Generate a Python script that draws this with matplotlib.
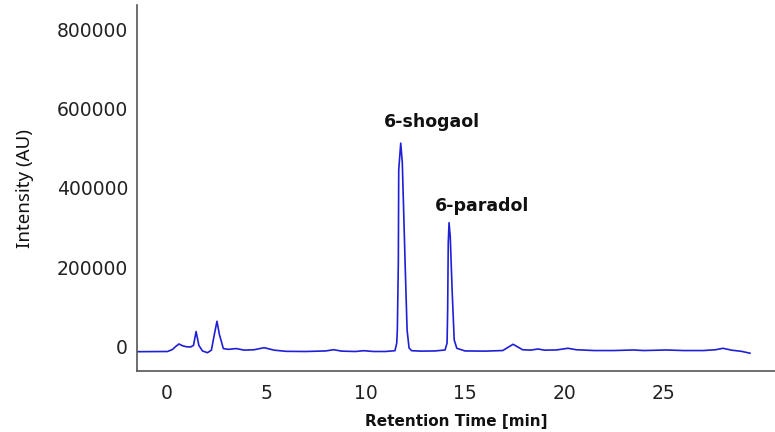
import matplotlib
matplotlib.use("Agg")
import matplotlib.pyplot as plt

# chromatogram trace: retention time (min) and detector intensity (AU)
rt = [-1.49, 0.05, 0.30, 0.45, 0.62, 0.80, 1.00, 1.20, 1.35, 1.48, 1.62, 1.80,
      2.05, 2.25, 2.40, 2.53, 2.65, 2.85, 3.10, 3.50, 3.90, 4.40, 4.90, 5.40,
      6.00, 7.00, 8.00, 8.40, 8.80, 9.50, 9.90, 10.40, 11.00,
      11.48, 11.57, 11.60, 11.65, 11.67, 11.72, 11.77, 11.85, 11.99, 12.09,
      12.19, 12.32, 12.80, 13.50,
      14.00, 14.10, 14.13, 14.16, 14.20, 14.26, 14.36, 14.46, 14.59,
      15.00, 16.00, 16.90, 17.42, 17.90, 18.30, 18.67, 19.00, 19.60, 20.18,
      20.60, 21.50, 22.50, 23.45, 24.00, 25.11, 26.00, 27.00, 27.60, 27.97,
      28.40, 28.90, 29.33]
intensity = [-13900, -13400, -8000, -1000, 5600, 1000, -1500, -2000, 2000,
             37000, 2000, -12000,
             -16500, -10000, 30000, 63000, 30000, -6000, -8000, -6000, -10000,
             -9000, -3800, -10000,
             -13000, -13400, -12000, -8900, -12500, -13400, -11400, -13400,
             -13400,
             -11400, 8100, 41000, 210700, 445600, 479200, 513000, 463300,
             210400, 40900, -4600, -11400, -12500, -12000,
             -9600, 8100, 91500, 261000, 312000, 276900, 134500, 15700, -5300,
             -12000, -12500, -11000, 4800, -9000, -10000, -7100, -10000,
             -9500, -5300,
             -9000, -11000, -11000, -9600, -11000, -9600, -11000, -11000,
             -9000, -5300,
             -10000, -13000, -17700]

peak_names = ["6-shogaol", "6-paradol"]
peak_label_rt = [13.34, 15.86]
peak_label_y = [567000, 354600]

x_ticks = [0, 5, 10, 15, 20, 25]
y_ticks = [0, 200000, 400000, 600000, 800000]

fig = plt.figure(figsize=(7.75, 4.32), dpi=100)
ax = fig.add_axes([0.1768, 0.1412, 0.8232, 0.8472])

ax.plot(rt, intensity, color="#1f1fd6", lw=1.2)

for name, x, y in zip(peak_names, peak_label_rt, peak_label_y):
    ax.text(x, y, name, ha="center", va="center", fontsize=12.5,
            fontweight="bold", color="#111111")

ax.set_xlim(-1.49, 30.59)
ax.set_ylim(-62700, 862000)
ax.set_xticks(x_ticks)
ax.set_yticks(y_ticks)
ax.set_xticklabels([str(v) for v in x_ticks])
ax.set_yticklabels([str(v) for v in y_ticks])
ax.tick_params(axis="both", length=0, labelsize=13.5, labelcolor="#222222")
ax.tick_params(axis="y", pad=6.5)
ax.tick_params(axis="x", pad=9.5)

for side in ("top", "right"):
    ax.spines[side].set_visible(False)
for side in ("left", "bottom"):
    ax.spines[side].set_color("#555555")
    ax.spines[side].set_linewidth(1.2)

ax.set_ylabel("Intensity (AU)", family="Noto Sans", fontsize=13.5,
              color="#111111", labelpad=16)
ax.set_xlabel("Retention Time [min]", fontsize=11, fontweight="bold",
              color="#111111", labelpad=8)

fig.savefig("out.png", dpi=100)
